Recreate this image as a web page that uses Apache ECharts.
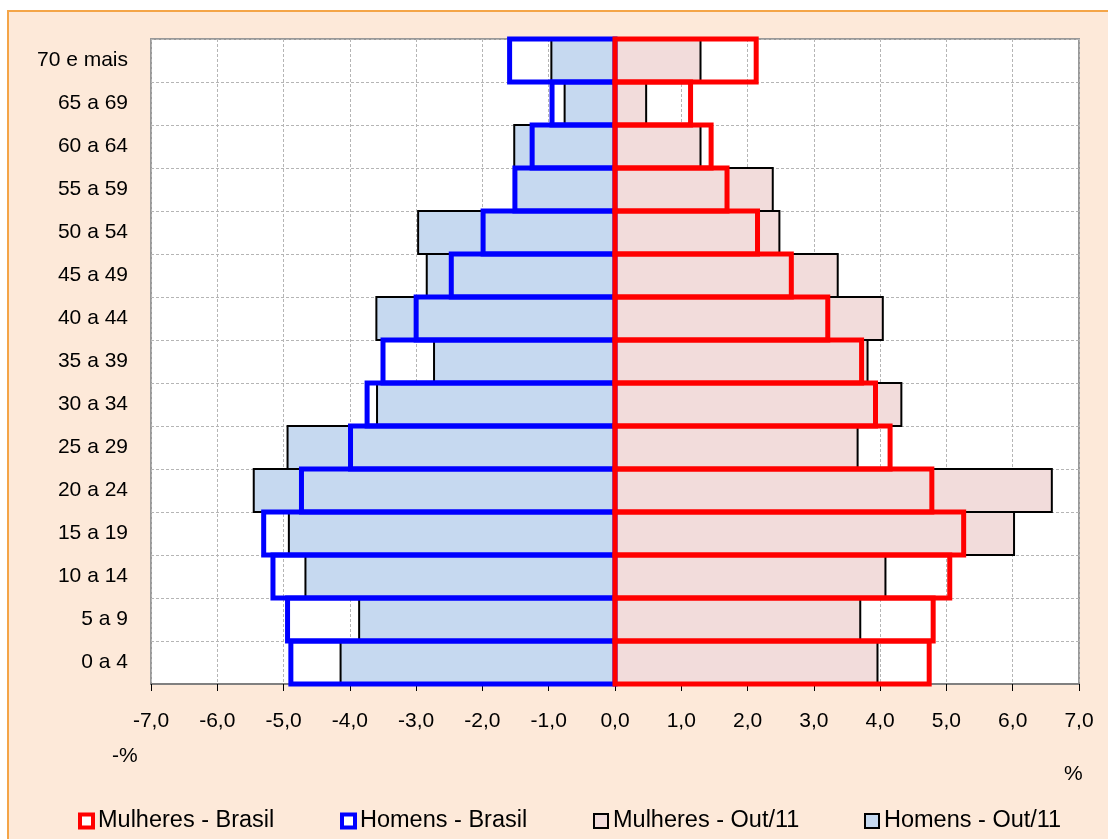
<!DOCTYPE html>
<html>
<head>
<meta charset="utf-8">
<script src="https://cdn.jsdelivr.net/npm/echarts@6/dist/echarts.min.js"></script>
<style>
  html, body { margin: 0; padding: 0; background: #ffffff; overflow: hidden; }
  #frame { position: absolute; left: 7px; top: 10px; width: 1200px; height: 900px;
           background: #FDE9D9; border: 2px solid #F4A548; box-sizing: border-box; }
  #chart { position: absolute; left: 0; top: 0; width: 1108px; height: 839px; }
</style>
</head>
<body>
<div id="frame"></div>
<div id="chart"></div>
<script>
// Age groups, bottom to top
const categories = ['0 a 4', '5 a 9', '10 a 14', '15 a 19', '20 a 24', '25 a 29', '30 a 34',
  '35 a 39', '40 a 44', '45 a 49', '50 a 54', '55 a 59', '60 a 64', '65 a 69', '70 e mais'];

// Values in % (men shown as negative)
const homensOut11 = [-4.14, -3.86, -4.67, -4.92, -5.45, -4.94, -3.59, -2.73, -3.60, -2.84, -2.97, -1.52, -1.52, -0.76, -0.96];
const mulheresOut11 = [3.96, 3.70, 4.08, 6.02, 6.59, 3.66, 4.32, 3.81, 4.04, 3.36, 2.48, 2.38, 1.29, 0.47, 1.29];
const homensBrasil = [-4.89, -4.94, -5.16, -5.30, -4.73, -3.99, -3.74, -3.50, -3.00, -2.47, -1.99, -1.51, -1.25, -0.95, -1.59];
const mulheresBrasil = [4.74, 4.80, 5.05, 5.26, 4.78, 4.15, 3.93, 3.72, 3.21, 2.66, 2.15, 1.69, 1.45, 1.14, 2.13];

const xTicks = { min: -7, max: 7, interval: 1 };

const FONT = 'Liberation Sans, Arial, sans-serif';
const chart = echarts.init(document.getElementById('chart'), null, { renderer: 'canvas' });

function legendItem(name, left, icon) {
  return {
    data: [Object.assign({ name: name, icon: 'rect' }, icon.data)],
    left: left, top: 809, padding: 0,
    itemWidth: icon.w, itemHeight: icon.w,
    selectedMode: false,
    textStyle: { fontSize: 23.5, color: '#000', fontFamily: FONT }
  };
}

// Bars drawn with the stroke centred on the bar edge (like the original spreadsheet chart)
function barSeries(name, values, fill, stroke, lineWidth, z) {
  return {
    name: name, type: 'custom', z: z,
    data: values.map((v, i) => [v, i]),
    encode: { x: 0, y: 1 },
    emphasis: { disabled: true },
    clip: false,
    renderItem: function (params, api) {
      const v = api.value(0), c = api.value(1);
      const p0 = api.coord([0, c]);
      const p1 = api.coord([v, c]);
      const h = api.size([0, 1])[1];
      return {
        type: 'rect',
        shape: { x: Math.min(p0[0], p1[0]), y: p0[1] - h / 2, width: Math.abs(p1[0] - p0[0]), height: h },
        style: { fill: fill, stroke: stroke, lineWidth: lineWidth }
      };
    }
  };
}

const option = {
  animation: false,
  grid: {
    left: 151, right: 29, top: 39, bottom: 155,
    show: true, backgroundColor: '#ffffff', borderColor: '#999999', borderWidth: 2
  },
  xAxis: {
    type: 'value', min: xTicks.min, max: xTicks.max, interval: xTicks.interval,
    axisLine: { show: true, onZero: false, lineStyle: { color: '#808080', width: 2 } },
    axisTick: { show: true, length: 7, lineStyle: { color: '#000', width: 1 } },
    axisLabel: {
      margin: 27, fontSize: 21, color: '#000', fontFamily: FONT,
      formatter: v => v.toFixed(1).replace('.', ',')
    },
    splitLine: { show: true, lineStyle: { color: '#b5b5b5', width: 1, type: [3, 2] } }
  },
  yAxis: [
    {
      type: 'category', data: categories,
      axisLine: { show: false, onZero: false },
      axisTick: { show: false },
      axisLabel: { margin: 23, fontSize: 21, color: '#000', fontFamily: FONT },
      splitLine: { show: true, lineStyle: { color: '#b5b5b5', width: 1, type: [3, 2] } }
    },
    {
      type: 'category', data: categories, position: 'left',
      axisLine: { show: true, onZero: true, lineStyle: { color: '#000', width: 1 } },
      axisTick: { show: true, length: 5, lineStyle: { color: '#000' } },
      axisLabel: { show: false },
      splitLine: { show: false }
    }
  ],
  legend: [
    legendItem('Mulheres - Brasil', 78, { w: 13, data: { itemStyle: { color: '#fff', borderColor: '#ff0000', borderWidth: 4 } } }),
    legendItem('Homens - Brasil', 340, { w: 13, data: { itemStyle: { color: '#fff', borderColor: '#0000ff', borderWidth: 4 } } }),
    legendItem('Mulheres - Out/11', 593, { w: 14, data: { itemStyle: { color: '#F2DCDB', borderColor: '#000', borderWidth: 2 } } }),
    legendItem('Homens - Out/11', 864, { w: 14, data: { itemStyle: { color: '#C6D9F0', borderColor: '#000', borderWidth: 2 } } })
  ],
  graphic: [
    { type: 'text', left: 112, top: 746, style: { text: '-%', fontSize: 21, fill: '#000', fontFamily: FONT } },
    { type: 'text', left: 1064, top: 764, style: { text: '%', fontSize: 21, fill: '#000', fontFamily: FONT } }
  ],
  series: [
    barSeries('Homens - Out/11', homensOut11, '#C6D9F0', '#000000', 2, 2),
    barSeries('Mulheres - Out/11', mulheresOut11, '#F2DCDB', '#000000', 2, 2),
    barSeries('Homens - Brasil', homensBrasil, 'rgba(0,0,0,0)', '#0000ff', 5, 3),
    barSeries('Mulheres - Brasil', mulheresBrasil, 'rgba(0,0,0,0)', '#ff0000', 5, 4)
  ]
};
chart.setOption(option);
</script>
</body>
</html>
